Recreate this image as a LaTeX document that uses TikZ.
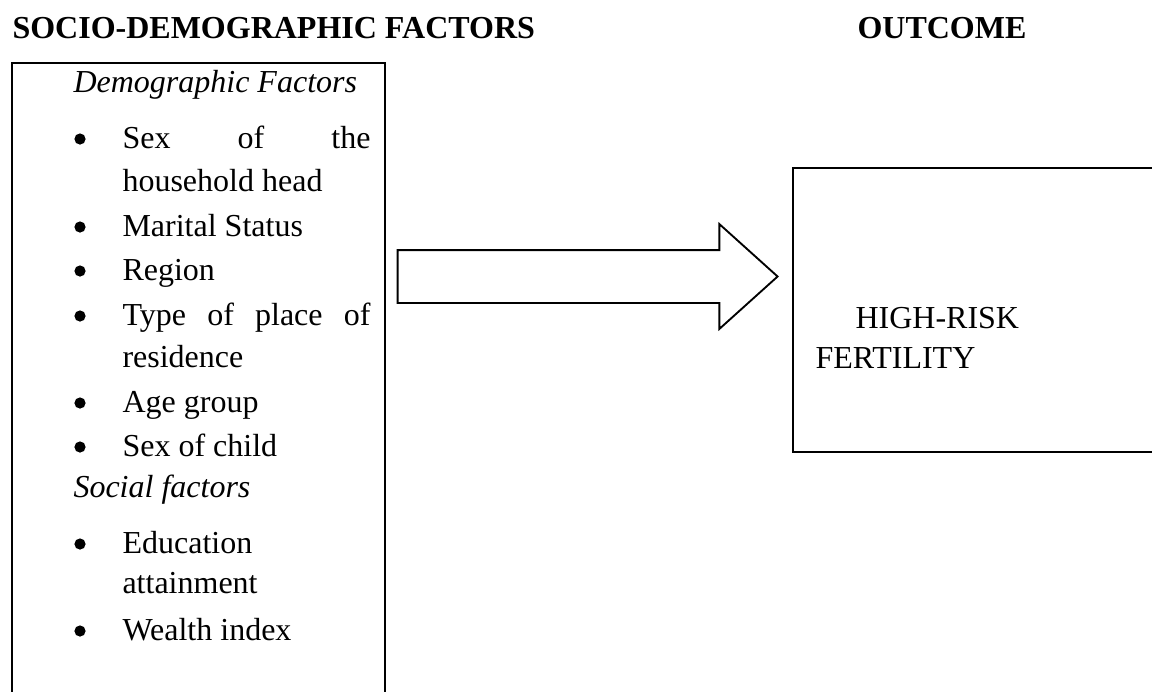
\documentclass[tikz,border=0pt]{standalone}
\usepackage{fontspec}
\setmainfont{Liberation Serif}
\usetikzlibrary{shapes.arrows}

\tikzset{
  txt/.style={anchor=base west, inner sep=0pt},
  bul/.style={circle, fill, inner sep=0pt, minimum size=4.2pt},
  frame/.style={draw, line width=0.9pt, rectangle, inner sep=0pt}
}

\begin{document}
\begin{tikzpicture}[x=0.375pt, y=-0.375pt, font=\fontsize{12}{14}\selectfont]
\path[use as bounding box] (0,0) rectangle (1152,691);
\clip (0,0) rectangle (1152,691);

% headings
\node[txt] (head1) at (12,38) {\textbf{SOCIO-DEMOGRAPHIC FACTORS}};
\node[txt] (head2) at (857,38) {\textbf{OUTCOME}};

% boxes
\node[frame, minimum width=139.875pt, minimum height=253.875pt] (factors) at (198.5,401.5) {};
\node[frame, minimum width=152.625pt, minimum height=106.5pt] (outcome) at (996.5,310) {};

% left box text
\node[txt] (demo) at (73,92) {\textit{Demographic Factors}};
\node[txt] (sexhead) at (122,148) {\makebox[93pt][s]{Sex of the}};
\node[txt] (sexhead2) at (122,191) {household head};
\node[txt] (marital) at (122,236) {Marital Status};
\node[txt] (region) at (122,280) {Region};
\node[txt] (place) at (122,325) {\makebox[93pt][s]{Type of place of}};
\node[txt] (place2) at (122,367) {residence};
\node[txt] (age) at (122,412) {Age group};
\node[txt] (sexchild) at (122,456) {Sex of child};
\node[txt] (social) at (73,497) {\textit{Social factors}};
\node[txt] (edu) at (122,553) {Education};
\node[txt] (edu2) at (122,593) {attainment};
\node[txt] (wealth) at (122,640) {Wealth index};

\foreach \y/\n in {139/1,227/2,271/3,316/4,403/5,447/6,544/7,631/8}
  \node[bul] (bul\n) at (80,\y) {};

% outcome text
\node[txt, align=left, font=\fontsize{12}{15}\selectfont] (risk) at (815,368) {\hspace*{15pt}HIGH-RISK\\FERTILITY};

% block arrow
\node[draw, line width=0.7pt, single arrow, single arrow tip angle=84,
      single arrow head extend=9.75pt, minimum height=142.5pt,
      inner xsep=0pt, inner ysep=9.5625pt, anchor=tip] (arrow) at (779,276.5) {};
\end{tikzpicture}
\end{document}
